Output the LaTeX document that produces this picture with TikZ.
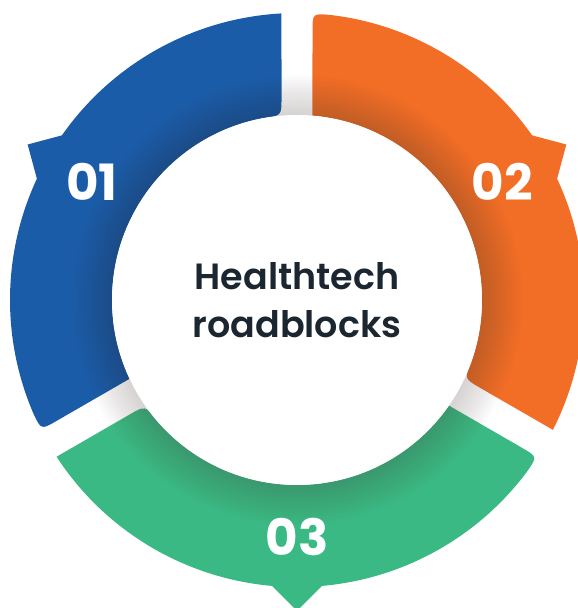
\documentclass[tikz,border=0pt]{standalone}
\usepackage{fontspec}
\setmainfont{Poppins}
\newfontfamily\titlefont{Poppins SemiBold}
\usetikzlibrary{calc}
\definecolor{segblue}{HTML}{1B5CA8}
\definecolor{segorange}{HTML}{F26D25}
\definecolor{seggreen}{HTML}{3AB985}
\definecolor{ink}{HTML}{1C2631}
\definecolor{shadowc}{HTML}{4A3A3A}
\begin{document}
\begin{tikzpicture}[x=1pt,y=1pt,
  numlabel/.style={text=white, inner sep=0pt,
    font=\bfseries\fontsize{50}{50}\selectfont},
  titlelabel/.style={text=ink, align=center, inner sep=0pt,
    font=\titlefont\fontsize{36.5}{48}\selectfont}]
\useasboundingbox (-297,-308) rectangle (281,300);
% outer and inner radii of the ring, tip radius of the pointers
\def\Ro{287}
\def\Ri{185}
\def\Rt{311}

% segment 01 (left)
\fill[segblue]
  (93.1:\Ro) arc[start angle=93.1, end angle=145, radius=\Ro]
  -- (150:\Rt) -- (155:\Ro)
  arc[start angle=155, end angle=203.3, radius=\Ro]
  .. controls (206.9:\Ro) .. ($(206.9:\Ro)!18pt!(205.2:\Ri)$)
  -- (205.2:\Ri)
  arc[start angle=205.2, end angle=100.4, radius=\Ri]
  .. controls (94.8:\Ri) .. ($(94.8:\Ri)!18pt!(93.1:\Ro)$)
  -- cycle;

% segment 02 (right)
\fill[segorange]
  ($(86.9:\Ro)!18pt!(85.2:\Ri)$) .. controls (86.9:\Ro) .. (83.3:\Ro)
  arc[start angle=83.3, end angle=35, radius=\Ro]
  -- (30:\Rt) -- (25:\Ro)
  arc[start angle=25, end angle=-26.9, radius=\Ro]
  -- ($(-25.2:\Ri)!18pt!(-26.9:\Ro)$)
  .. controls (-25.2:\Ri) .. (-19.6:\Ri)
  arc[start angle=-19.6, end angle=85.2, radius=\Ri]
  -- cycle;

% segment 03 (bottom)
\fill[seggreen]
  (213.1:\Ro) arc[start angle=213.1, end angle=265, radius=\Ro]
  -- (270:\Rt) -- (275:\Ro)
  arc[start angle=275, end angle=323.3, radius=\Ro]
  .. controls (326.9:\Ro) .. ($(326.9:\Ro)!18pt!(325.2:\Ri)$)
  -- (325.2:\Ri)
  arc[start angle=325.2, end angle=220.4, radius=\Ri]
  .. controls (214.8:\Ri) .. ($(214.8:\Ri)!18pt!(213.1:\Ro)$)
  -- cycle;

% soft shadow around the central disc
\foreach \k in {1,...,16}
  \fill[shadowc, opacity=0.017] (0,0) circle[radius={\Ri+\k*2.5}];

% central disc
\fill[white] (0,0) circle[radius=\Ri];

\node[titlelabel] (title) at (0,0) {Healthtech\\roadblocks};
\node[numlabel] (n01) at (150:237) {01};
\node[numlabel] (n02) at (30:237) {02};
\node[numlabel] (n03) at (270:237) {03};
\end{tikzpicture}
\end{document}
